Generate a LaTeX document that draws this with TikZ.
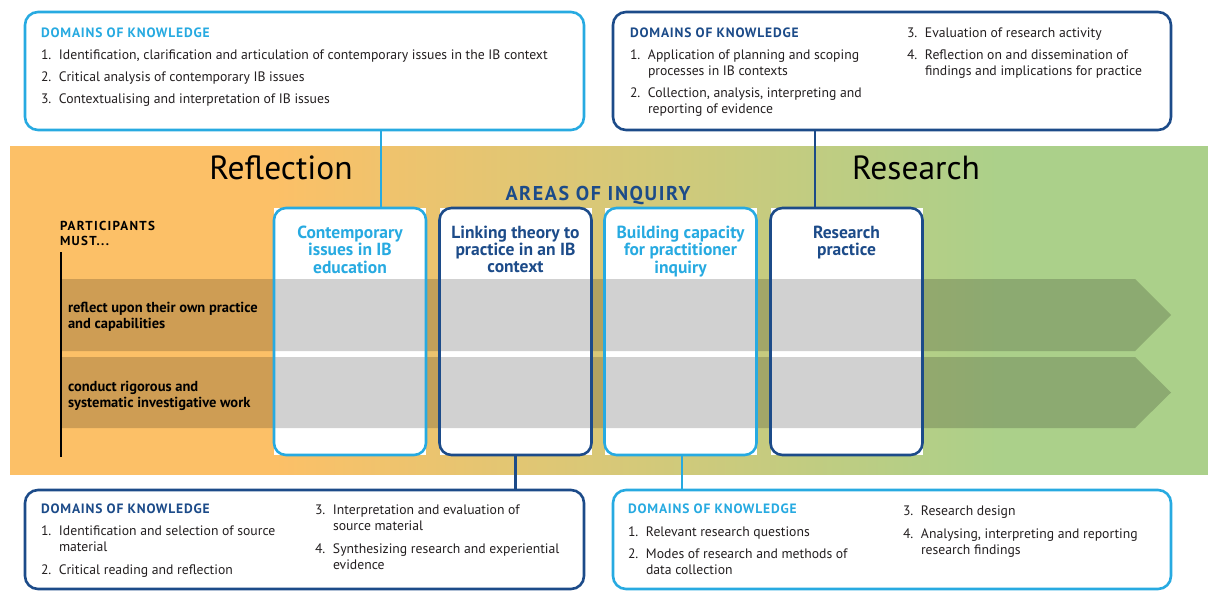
\documentclass[tikz,border=0pt]{standalone}
\usepackage{fontspec}
\setmainfont{PT Sans}
\definecolor{cyanb}{HTML}{27AAE1}
\definecolor{navyb}{HTML}{1C4B89}
\definecolor{orng}{HTML}{FCC067}
\definecolor{midc}{HTML}{D9C877}
\definecolor{grn}{HTML}{ABD08A}
\definecolor{txt}{HTML}{231F20}
% TikZ maps the path onto the 25bp--75bp part of the shading
\pgfdeclarehorizontalshading{bandshade}{100bp}{color(0bp)=(orng); color(36bp)=(orng); color(49.5bp)=(midc); color(66.5bp)=(grn); color(100bp)=(grn)}
\newcommand\dkone[2]{\begin{tabular}[t]{@{}p{18pt}@{}l@{}}#1&#2\end{tabular}}
\newcommand\dktwo[3]{\begin{tabular}[t]{@{}p{18pt}@{}l@{}}#1&#2\\&#3\end{tabular}}
\newcommand\ctitle[1]{\begin{tabular}[t]{@{}c@{}}#1\end{tabular}}
\newcommand\ltitle[1]{\begin{tabular}[t]{@{}l@{}}#1\end{tabular}}
\begin{document}
\begin{tikzpicture}[x=1pt,y=-1pt,
  every node/.style={inner sep=0pt, outer sep=0pt, text=txt},
  dbox/.style={draw, line width=2.6pt, rounded corners=13pt, fill=white},
  colbox/.style={fill=white, minimum width=152pt, minimum height=247pt},
  coloutline/.style={line width=2.6pt, rounded corners=12pt},
  conn/.style={line width=2.6pt},
  coltitle/.style={font=\fontsize{17.5}{17}\selectfont\bfseries, anchor=base},
  dktitle/.style={font=\fontsize{13.5}{15}\selectfont\bfseries\addfontfeatures{LetterSpace=6}, anchor=base west},
  dkitem/.style={font=\fontsize{13.7}{16}\selectfont, anchor=base west},
  bigword/.style={font=\fontsize{33.5}{38}\selectfont, anchor=base, text=black},
  striptext/.style={font=\fontsize{14.5}{16.5}\selectfont\bfseries, anchor=base west, text=black},
  stripfill/.style={fill=black, opacity=0.18}
]
\useasboundingbox (0,0) rectangle (1208,590);
% band
\shade[shading=bandshade] (10,146) rectangle (1208,474);
% column boxes (fill)
\node[colbox] (c1) at (350,331.5) {};
\node[colbox] (c2) at (515.5,331.5) {};
\node[colbox] (c3) at (680.5,331.5) {};
\node[colbox] (c4) at (846.5,331.5) {};
% strips
\fill[stripfill] (62,279) -- (1135,279) -- (1171,315) -- (1135,351) -- (62,351) -- cycle;
\fill[stripfill] (62,357) -- (1135,357) -- (1171,392.5) -- (1135,428) -- (62,428) -- cycle;
% column outlines
\draw[coloutline, cyanb] (c1.north west) rectangle (c1.south east);
\draw[coloutline, navyb] (c2.north west) rectangle (c2.south east);
\draw[coloutline, cyanb] (c3.north west) rectangle (c3.south east);
\draw[coloutline, navyb] (c4.north west) rectangle (c4.south east);
% column titles
\node[coltitle, text=cyanb] (t1) at (350,238) {\ctitle{Contemporary\\issues in IB\\education}};
\node[coltitle, text=navyb] (t2) at (515.5,238) {\ctitle{Linking theory to\\practice in an IB\\context}};
\node[coltitle, text=cyanb] (t3) at (680.5,238) {\ctitle{Building capacity\\for practitioner\\inquiry}};
\node[coltitle, text=navyb] (t4) at (846.5,238) {\ctitle{Research\\practice}};
% big words
\node[bigword] (refl) at (281,179) {Reflection};
\node[bigword] (res) at (916,179) {Research};
\node[font=\fontsize{20}{22}\selectfont\bfseries\addfontfeatures{LetterSpace=8}, text=navyb, anchor=base] (aoi) at (598,200) {AREAS OF INQUIRY};
% participants
\node[font=\fontsize{13}{15}\selectfont\bfseries\addfontfeatures{LetterSpace=10}, anchor=base west, text=black] (pm) at (60,230) {\ltitle{PARTICIPANTS\\MUST...}};
\coordinate (vt) at (61,252);
\coordinate (vb) at (61,457);
\draw[black, line width=1.2pt] (vt) -- (vb);
\node[striptext] (s1) at (68,312) {\ltitle{reflect upon their own practice\\and capabilities}};
\node[striptext] (s2) at (68,391) {\ltitle{conduct rigorous and\\systematic investigative work}};
% top-left box
\node[dbox, draw=cyanb, minimum width=559pt, minimum height=118pt] (tl) at (304.5,71) {};
\node[dktitle, text=cyanb] (tlh) at (41,37) {DOMAINS OF KNOWLEDGE};
\node[dkitem] (tl1) at (41,59) {\dkone{1.}{Identification, clarification and articulation of contemporary issues in the IB context}};
\node[dkitem] (tl2) at (41,81) {\dkone{2.}{Critical analysis of contemporary IB issues}};
\node[dkitem] (tl3) at (41,103) {\dkone{3.}{Contextualising and interpretation of IB issues}};
% top-right box
\node[dbox, draw=navyb, minimum width=558pt, minimum height=118pt] (tr) at (892,71) {};
\node[dktitle, text=navyb] (trh) at (630,37) {DOMAINS OF KNOWLEDGE};
\node[dkitem] (tr1) at (630,59) {\dktwo{1.}{Application of planning and scoping}{processes in IB contexts}};
\node[dkitem] (tr2) at (630,97) {\dktwo{2.}{Collection, analysis, interpreting and}{reporting of evidence}};
\node[dkitem] (tr3) at (907,37) {\dkone{3.}{Evaluation of research activity}};
\node[dkitem] (tr4) at (907,59) {\dktwo{4.}{Reflection on and dissemination of}{findings and implications for practice}};
% bottom-left box
\node[dbox, draw=navyb, minimum width=559pt, minimum height=99pt] (bl) at (304.5,539.5) {};
\node[dktitle, text=navyb] (blh) at (41,513) {DOMAINS OF KNOWLEDGE};
\node[dkitem] (bl1) at (41,535) {\dktwo{1.}{Identification and selection of source}{material}};
\node[dkitem] (bl2) at (41,574) {\dkone{2.}{Critical reading and reflection}};
\node[dkitem] (bl3) at (315,514) {\dktwo{3.}{Interpretation and evaluation of}{source material}};
\node[dkitem] (bl4) at (315,553) {\dktwo{4.}{Synthesizing research and experiential}{evidence}};
% bottom-right box
\node[dbox, draw=cyanb, minimum width=558pt, minimum height=99pt] (br) at (892,539.5) {};
\node[dktitle, text=cyanb] (brh) at (628,513) {DOMAINS OF KNOWLEDGE};
\node[dkitem] (br1) at (628,536) {\dkone{1.}{Relevant research questions}};
\node[dkitem] (br2) at (628,558) {\dktwo{2.}{Modes of research and methods of}{data collection}};
\node[dkitem] (br3) at (903,515) {\dkone{3.}{Research design}};
\node[dkitem] (br4) at (903,538) {\dktwo{4.}{Analysing, interpreting and reporting}{research findings}};
% connectors
\coordinate (k1) at (381,0);
\coordinate (k4) at (815,0);
\coordinate (k3) at (682,0);
\draw[conn, cyanb] (tl.south -| k1) -- (c1.north -| k1);
\draw[conn, navyb] (tr.south -| k4) -- (c4.north -| k4);
\draw[conn, navyb] (c2.south) -- (bl.north -| c2.south);
\draw[conn, cyanb] (c3.south -| k3) -- (br.north -| k3);
\end{tikzpicture}
\end{document}
